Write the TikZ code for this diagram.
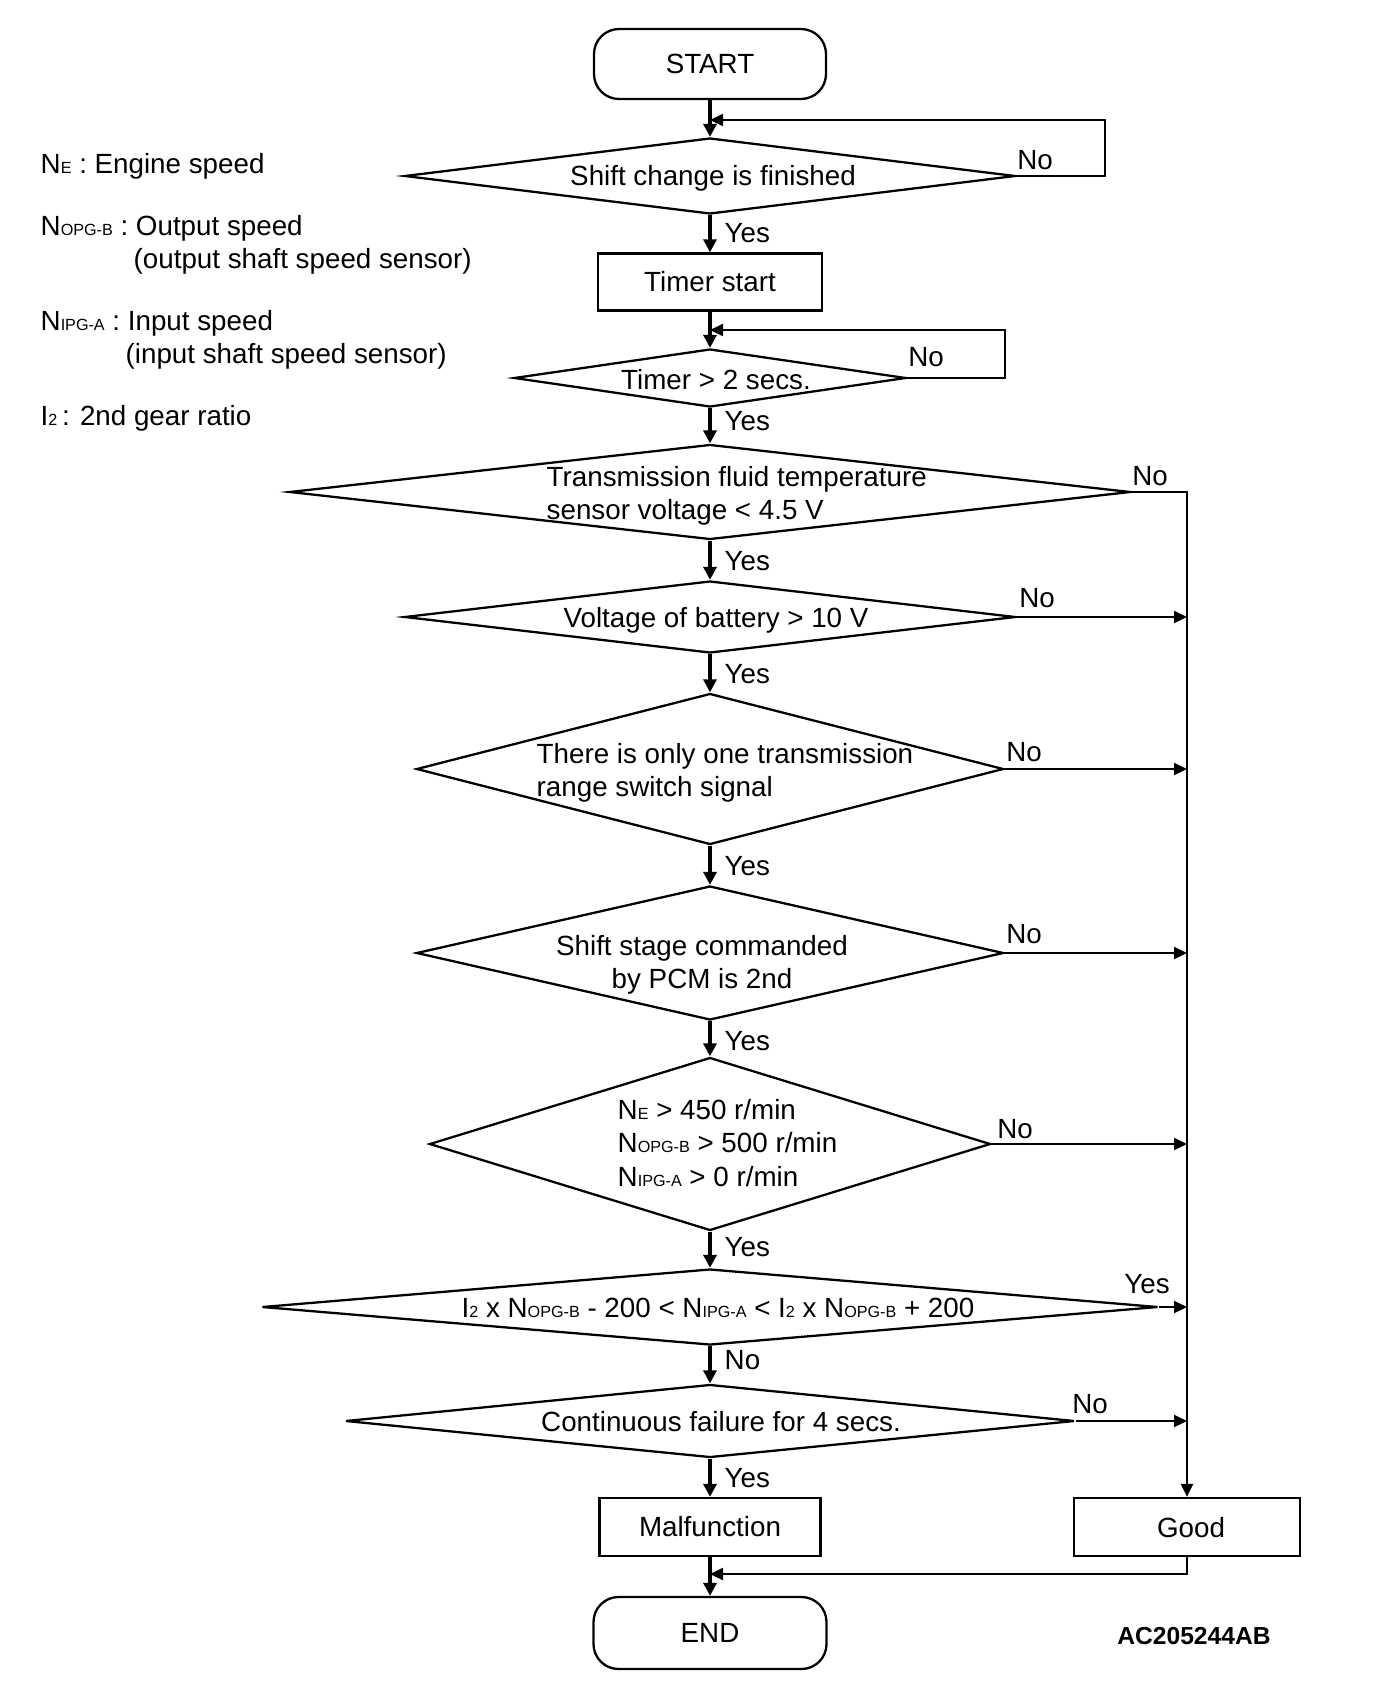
\documentclass[tikz,border=0pt]{standalone}
\usepackage{fontspec}
\setmainfont{Liberation Sans}
\usetikzlibrary{shapes.geometric, arrows.meta, positioning}
\newcommand{\fs}{\fontsize{7.9}{9.5}\selectfont}
\newcommand{\smallidx}[1]{{\fontsize{4.6}{5}\selectfont #1}}

\begin{document}
\begin{tikzpicture}[font=\fs,
    term/.style={draw, line width=0.65pt, rounded corners=0.25cm, minimum width=2.32cm, minimum height=0.70cm},
    box/.style={draw, line width=0.65pt, minimum width=2.24cm, minimum height=0.57cm},
    dec/.style={draw, diamond, line width=0.65pt, inner sep=0pt},
    txt/.style={inner sep=0pt},
    flow/.style={line width=1pt, -{Triangle[length=1.3mm, width=1.3mm]}},
    side/.style={line width=0.6pt, -{Triangle[length=1.3mm, width=1.2mm]}}]
\useasboundingbox (0,0) rectangle (13.76,-16.94);

        % Legend
        \node[txt, anchor=base west] (l1) at (0.40,-1.73) {N\smallidx{E} : Engine speed};
        \node[txt, anchor=base west] (l2) at (0.40,-2.35) {N\smallidx{OPG-B} : Output speed};
        \node[txt, anchor=base west] (l3) at (1.33,-2.68) {(output shaft speed sensor)};
        \node[txt, anchor=base west] (l4) at (0.40,-3.30) {N\smallidx{IPG-A} : Input speed};
        \node[txt, anchor=base west] (l5) at (1.25,-3.63) {(input shaft speed sensor)};
        \node[txt, anchor=base west] (l6) at (0.40,-4.25) {I\smallidx{2}\,: 2nd gear ratio};

        % Draw the steps
        \node[term] (start) at (7.10,-0.64) {START};
        \node[dec, minimum width=6.11cm, minimum height=0.76cm] (d1) at (7.10,-1.76) {};
        \node[txt] (d1t) at (7.13,-1.78) {Shift change is finished};
        \node[box] (timer) at (7.10,-2.82) {Timer start};
        \node[dec, minimum width=3.92cm, minimum height=0.58cm] (d2) at (7.10,-3.78) {};
        \node[txt] (d2t) at (7.16,-3.80) {Timer > 2 secs.};
        \node[dec, minimum width=8.41cm, minimum height=0.95cm] (d3) at (7.10,-4.92) {};
        \node[txt, anchor=west, align=left] (d3t) at (5.46,-4.96) {Transmission fluid temperature\\sensor voltage < 4.5 V};
        \node[dec, minimum width=6.11cm, minimum height=0.72cm] (d4) at (7.10,-6.17) {};
        \node[txt] (d4t) at (7.16,-6.20) {Voltage of battery > 10 V};
        \node[dec, minimum width=5.87cm, minimum height=1.51cm] (d5) at (7.10,-7.69) {};
        \node[txt, anchor=west, align=left] (d5t) at (5.36,-7.73) {There is only one transmission\\range switch signal};
        \node[dec, minimum width=5.87cm, minimum height=1.34cm] (d6) at (7.10,-9.53) {};
        \node[txt, align=center] (d6t) at (7.02,-9.65) {Shift stage commanded\\by PCM is 2nd};
        \node[dec, minimum width=5.61cm, minimum height=1.73cm] (d7) at (7.10,-11.44) {};
        \node[txt, anchor=west, align=left] (d7t) at (6.17,-11.43) {N\smallidx{E} > 450 r/min\\N\smallidx{OPG-B} > 500 r/min\\N\smallidx{IPG-A} > 0 r/min};
        \node[dec, minimum width=8.96cm, minimum height=0.76cm] (d8) at (7.10,-13.07) {};
        \node[txt] (d8t) at (7.18,-13.08) {I\smallidx{2} x N\smallidx{OPG-B} - 200 < N\smallidx{IPG-A} < I\smallidx{2} x N\smallidx{OPG-B} + 200};
        \node[dec, minimum width=7.29cm, minimum height=0.73cm] (d9) at (7.10,-14.21) {};
        \node[txt] (d9t) at (7.21,-14.22) {Continuous failure for 4 secs.};
        \node[box, minimum width=2.21cm, minimum height=0.58cm] (malf) at (7.10,-15.27) {Malfunction};
        \node[box, minimum width=2.26cm, minimum height=0.58cm, text depth=0pt, xshift=0pt] (good) at (11.87,-15.27) {\hspace*{0.08cm}Good};
        \node[term, minimum width=2.33cm, minimum height=0.72cm] (end) at (7.10,-16.33) {END};
        \node[txt, font=\fontsize{7}{8}\selectfont\bfseries] (code) at (11.94,-16.36) {AC205244AB};

        % Loop-back points
        \coordinate (j1) at (7.10,-1.20);
        \coordinate (j2) at (7.10,-3.30);
        \coordinate (j3) at (7.10,-15.74);

        % Connect the steps with arrows
        \draw[flow] (start) -- (d1);
        \draw[flow] (d1) -- (timer);
        \draw[flow] (timer) -- (d2);
        \draw[flow] (d2) -- (d3);
        \draw[flow] (d3) -- (d4);
        \draw[flow] (d4) -- (d5);
        \draw[flow] (d5) -- (d6);
        \draw[flow] (d6) -- (d7);
        \draw[flow] (d7) -- (d8);
        \draw[flow] (d8) -- (d9);
        \draw[flow] (d9) -- (malf);
        \draw[flow] (malf) -- (end);
        \draw[side] (d1.east) -- ++(0.88,0) |- (j1);
        \draw[side] (d2.east) -- ++(0.98,0) |- (j2);
        \draw[side] (d3.east) -| (good.north);
        \draw[side] (d4.east) -- (d4.east -| good.north);
        \draw[side] (d5.east) -- (d5.east -| good.north);
        \draw[side] (d6.east) -- (d6.east -| good.north);
        \draw[side] (d7.east) -- (d7.east -| good.north);
        \draw[side] (d8.east) -- (d8.east -| good.north);
        \draw[side] (d9.east) -- (d9.east -| good.north);
        \draw[side] (good.south) |- (j3);

        % Yes / No labels
        \node[txt] (n1) at (10.35,-1.60) {No};
        \node[txt] (n2) at (9.26,-3.57) {No};
        \node[txt] (n3) at (11.50,-4.76) {No};
        \node[txt] (n4) at (10.37,-5.98) {No};
        \node[txt] (n5) at (10.24,-7.52) {No};
        \node[txt] (n6) at (10.24,-9.34) {No};
        \node[txt] (n7) at (10.15,-11.29) {No};
        \node[txt] (y8) at (11.47,-12.84) {Yes};
        \node[txt] (n9) at (10.90,-14.04) {No};
        \node[txt, anchor=west] (y1) at (7.24,-2.33) {Yes};
        \node[txt, anchor=west] (y2) at (7.24,-4.21) {Yes};
        \node[txt, anchor=west] (y3) at (7.24,-5.61) {Yes};
        \node[txt, anchor=west] (y4) at (7.24,-6.74) {Yes};
        \node[txt, anchor=west] (y5) at (7.24,-8.66) {Yes};
        \node[txt, anchor=west] (y6) at (7.24,-10.41) {Yes};
        \node[txt, anchor=west] (y7) at (7.24,-12.47) {Yes};
        \node[txt, anchor=west] (n8) at (7.24,-13.60) {No};
        \node[txt, anchor=west] (y9) at (7.24,-14.78) {Yes};
\end{tikzpicture}
\end{document}
